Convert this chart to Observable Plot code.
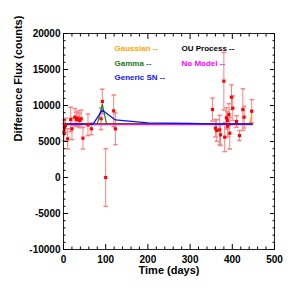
<!DOCTYPE html>
<html>
<head>
<meta charset="utf-8">
<script src="https://cdn.jsdelivr.net/npm/d3@7"></script>
<script src="https://cdn.jsdelivr.net/npm/@observablehq/plot@0.6"></script>
<style>
  html, body { margin: 0; padding: 0; background: #fff; }
  #chart svg { font-family: "Liberation Sans", Arial, sans-serif; font-weight: bold; }
</style>
</head>
<body>
<div id="chart"></div>
<script>
// Observations
const obsDays = [1, 2, 5, 10, 17, 20, 27, 31, 34, 38, 42, 46, 58, 66, 89, 92, 100, 119, 123,
  353, 360, 363, 370, 372, 380, 382, 386, 388, 389, 392, 394, 398, 401, 410, 417, 425, 428, 446];
const obsFlux = [6290, 6990, 7220, 5370, 8060, 6760, 8380, 8060, 8240, 7920, 8150, 5460, 7310, 6760, 8150, 10560, 0, 9260, 6760,
  9440, 6850, 6530, 6620, 5930, 13380, 5600, 8290, 7920, 7130, 8750, 6150, 11150, 9630, 7780, 5830, 9440, 8380, 9210];
const obsErr = [1200, 1000, 1000, 1400, 1700, 1500, 1200, 1000, 1000, 1000, 1200, 1500, 1500, 800, 1500, 1700, 4000, 2200, 2200,
  1600, 1200, 1500, 2000, 1500, 4000, 2000, 1400, 1200, 1500, 1500, 2200, 1700, 1700, 800, 700, 2900, 1500, 1600];

// Model curves
const genericDays = [0, 70, 92, 123, 200, 300, 380, 447];
const genericFlux = [7420, 7420, 9350, 8000, 7600, 7500, 7420, 7420];
const gammaDays = [0, 80, 92, 102, 447];
const gammaFlux = [7400, 7400, 10200, 7400, 7400];
const ouDays = [0, 4, 447];
const ouFlux = [5700, 7400, 7400];
const gaussDays = [0, 438, 443, 447];
const gaussFlux = [7400, 7400, 7800, 9200];
const redDays = [0, 447];
const redFlux = [7380, 7380];
const noModelDays = [0, 447];
const noModelFlux = [7330, 7330];

// Axis ticks
const xMajor = [0, 100, 200, 300, 400, 500];
const xMinor = d3.range(0, 501, 20).filter(v => v % 100 !== 0);
const yMajor = [-10000, -5000, 0, 5000, 10000, 15000, 20000];
const yMinor = d3.range(-10000, 20001, 1000).filter(v => v % 5000 !== 0);

const idx = a => a.map((_, i) => i);
const line = (dx, dy, color, w = 1.2) =>
  Plot.line(idx(dx), {x: i => dx[i], y: i => dy[i], stroke: color, strokeWidth: w});

const capSymbol = {draw(ctx, size) { const w = 2.2; ctx.moveTo(-w, 0); ctx.lineTo(w, 0); }};
const obsIdx = idx(obsDays);
const fmt = d => String(d);

const chart = Plot.plot({
  width: 300,
  height: 300,
  marginLeft: 63,
  marginRight: 26,
  marginTop: 33,
  marginBottom: 51,
  x: {domain: [0, 500], label: null},
  y: {domain: [-10000, 20000], label: null},
  marks: [
    // error bars
    Plot.ruleX(obsIdx, {x: i => obsDays[i], y1: i => obsFlux[i] - obsErr[i], y2: i => obsFlux[i] + obsErr[i], stroke: "#ff8080", strokeWidth: 1}),
    Plot.dot(obsIdx, {x: i => obsDays[i], y: i => obsFlux[i] - obsErr[i], symbol: capSymbol, stroke: "#ff8080", r: 2}),
    Plot.dot(obsIdx, {x: i => obsDays[i], y: i => obsFlux[i] + obsErr[i], symbol: capSymbol, stroke: "#ff8080", r: 2}),
    // models
    line(gammaDays, gammaFlux, "#1a8a1a"),
    line(gaussDays, gaussFlux, "#ffa500"),
    line(ouDays, ouFlux, "#000000"),
    line(redDays, redFlux, "#e0103a", 1.3),
    line(noModelDays, noModelFlux, "#e020c0", 1.2),
    line(genericDays, genericFlux, "#1010ff", 1.3),
    // data points
    Plot.dot(obsIdx, {x: i => obsDays[i], y: i => obsFlux[i], symbol: "square", fill: "#ff0000", r: 1.8}),
    // frame and axes
    Plot.frame({stroke: "#222", strokeWidth: 1}),
    Plot.axisX(xMajor, {anchor: "bottom", tickSize: -5, tickFormat: () => "", label: null}),
    Plot.axisX(xMinor, {anchor: "bottom", tickSize: -2.5, tickFormat: () => "", label: null}),
    Plot.axisX(xMajor, {anchor: "top", tickSize: -5, tickFormat: () => "", label: null}),
    Plot.axisX(xMinor, {anchor: "top", tickSize: -2.5, tickFormat: () => "", label: null}),
    Plot.axisX(xMajor, {anchor: "bottom", tickSize: 0, tickPadding: 6, tickFormat: fmt, label: null, fontSize: 10, fill: "#000"}),
    Plot.axisY(yMajor, {anchor: "left", tickSize: -5, tickFormat: () => "", label: null}),
    Plot.axisY(yMinor, {anchor: "left", tickSize: -2.5, tickFormat: () => "", label: null}),
    Plot.axisY(yMajor, {anchor: "right", tickSize: -5, tickFormat: () => "", label: null}),
    Plot.axisY(yMinor, {anchor: "right", tickSize: -2.5, tickFormat: () => "", label: null}),
    Plot.axisY(yMajor, {anchor: "left", tickSize: 0, tickPadding: 3, tickFormat: fmt, label: null, fontSize: 10, fill: "#000"}),
    // axis titles
    Plot.text(["Time (days)"], {frameAnchor: "bottom", dy: 24, fontSize: 11, fontWeight: "bold", fill: "#000"}),
    Plot.text(["Difference Flux (counts)"], {frameAnchor: "left", dx: -45, rotate: -90, fontSize: 11, fontWeight: "bold", fill: "#000"}),
    // legend
    Plot.text(["Gaussian --"], {frameAnchor: "top-left", dx: 51, dy: 12, textAnchor: "start", fontSize: 8, fontWeight: "bold", fill: "#ffa500"}),
    Plot.text(["OU Process --"], {frameAnchor: "top-left", dx: 118, dy: 12, textAnchor: "start", fontSize: 8, fontWeight: "bold", fill: "#000000"}),
    Plot.text(["Gamma --"], {frameAnchor: "top-left", dx: 51, dy: 26.5, textAnchor: "start", fontSize: 8, fontWeight: "bold", fill: "#1a7a1a"}),
    Plot.text(["No Model --"], {frameAnchor: "top-left", dx: 118, dy: 26.5, textAnchor: "start", fontSize: 8, fontWeight: "bold", fill: "#ff00ff"}),
    Plot.text(["Generic SN --"], {frameAnchor: "top-left", dx: 51, dy: 40.5, textAnchor: "start", fontSize: 8, fontWeight: "bold", fill: "#1010ff"})
  ]
});
document.getElementById("chart").appendChild(chart);
</script>
</body>
</html>
